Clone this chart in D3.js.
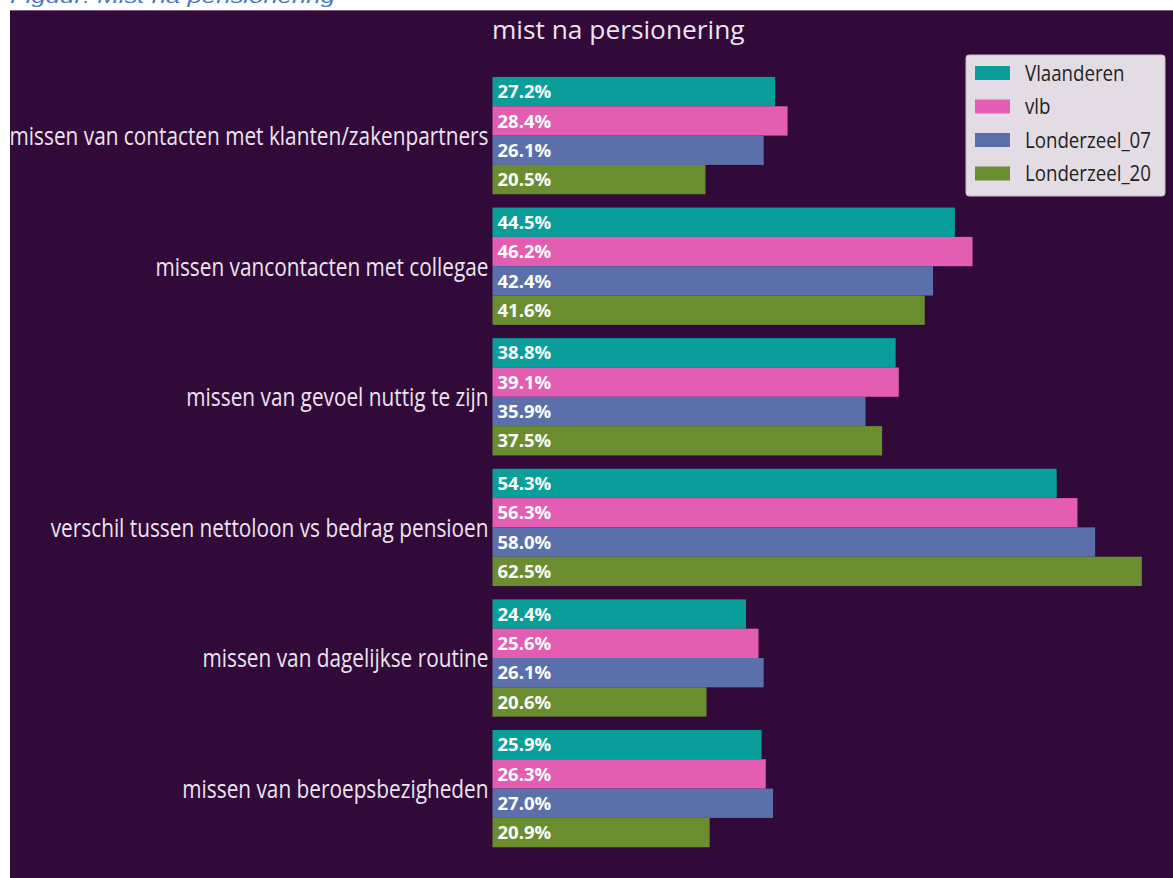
<!DOCTYPE html>
<html>
<head>
<meta charset="utf-8">
<script src="https://cdn.jsdelivr.net/npm/d3@7"></script>
<style>
  html, body { margin: 0; padding: 0; background: #ffffff; }
  svg { display: block; }
</style>
</head>
<body>
<svg id="chart" width="1173" height="878"></svg>
<script>
const categories = [
  "missen van contacten met klanten/zakenpartners",
  "missen vancontacten met collegae",
  "missen van gevoel nuttig te zijn",
  "verschil tussen nettoloon vs bedrag pensioen",
  "missen van dagelijkse routine",
  "missen van beroepsbezigheden"
];
const seriesNames = ["Vlaanderen", "vlb", "Londerzeel_07", "Londerzeel_20"];
const vlaanderen   = [27.2, 44.5, 38.8, 54.3, 24.4, 25.9];
const vlb          = [28.4, 46.2, 39.1, 56.3, 25.6, 26.3];
const londerzeel07 = [26.1, 42.4, 35.9, 58.0, 26.1, 27.0];
const londerzeel20 = [20.5, 41.6, 37.5, 62.5, 20.6, 20.9];
const seriesValues = [vlaanderen, vlb, londerzeel07, londerzeel20];
const seriesColors = ["#0a9e9b", "#e35db2", "#5b70aa", "#6a8e2f"];
const chartTitle = "mist na persionering";
const captionText = "Figuur: Mist na pensionering";

const svg = d3.select("#chart");
const W = 1173, H = 878;

// caption (mostly cropped at top, as in the reference)
svg.append("text")
  .attr("x", 10).attr("y", 2.5)
  .attr("font-family", "Liberation Sans, Arial, sans-serif")
  .attr("font-style", "italic")
  .attr("font-size", 19)
  .attr("fill", "#4a78c8")
  .attr("textLength", 325)
  .attr("lengthAdjust", "spacingAndGlyphs")
  .text(captionText);

// panel
svg.append("rect")
  .attr("x", 10).attr("y", 11).attr("width", W - 10).attr("height", H - 11)
  .attr("fill", "#310a39");
svg.append("line")
  .attr("x1", 10).attr("x2", W).attr("y1", 10.5).attr("y2", 10.5)
  .attr("stroke", "#7a5a80").attr("stroke-width", 1);

const x = d3.scaleLinear().domain([0, 65]).range([492.5, 492.5 + 65 * 10.39]);
const y = d3.scaleBand().domain(categories).range([70.3, 853.9])
  .paddingInner(0.102).paddingOuter(0.051);
const ySub = d3.scaleBand().domain(seriesNames).range([0, y.bandwidth()]);

const rows = [];
categories.forEach((c, i) => {
  seriesNames.forEach((s, j) => {
    rows.push({ cat: c, series: s, value: seriesValues[j][i], color: seriesColors[j] });
  });
});

const g = svg.append("g");
g.selectAll("rect.bar").data(rows).join("rect")
  .attr("class", "bar")
  .attr("x", x(0))
  .attr("y", d => y(d.cat) + ySub(d.series))
  .attr("width", d => x(d.value) - x(0))
  .attr("height", ySub.bandwidth())
  .attr("fill", d => d.color);

g.selectAll("text.val").data(rows).join("text")
  .attr("class", "val")
  .attr("x", x(0) + 5)
  .attr("y", d => y(d.cat) + ySub(d.series) + ySub.bandwidth() / 2)
  .attr("dy", "0.36em")
  .attr("font-family", "Open Sans, sans-serif")
  .attr("font-weight", "bold")
  .attr("font-size", 18.5)
  .attr("fill", "#ffffff")
  .text(d => d.value.toFixed(1) + "%");

// category axis labels
const labelSX = 0.80;
const yAxis = d3.axisLeft(y).tickSize(0).tickPadding(0);
const axG = svg.append("g").attr("transform", `translate(${x(0) - 4},0)`).call(yAxis);
axG.select(".domain").remove();
axG.selectAll(".tick text")
  .attr("font-family", "Open Sans, sans-serif")
  .attr("font-size", 26)
  .attr("fill", "#ece4ee")
  .attr("x", 0)
  .attr("dy", "0.36em")
  .attr("transform", `scale(${labelSX},1)`);

// title
svg.append("text")
  .attr("x", 492).attr("y", 39)
  .attr("font-family", "Open Sans, sans-serif")
  .attr("font-size", 26.3)
  .attr("fill", "#ece4ee")
  .text(chartTitle);

// legend
const legX = 966, legY = 55, legW = 199, legH = 141;
const leg = svg.append("g");
leg.append("rect")
  .attr("x", legX).attr("y", legY).attr("width", legW).attr("height", legH)
  .attr("rx", 3)
  .attr("fill", "#e4dce5").attr("stroke", "#c9bdcb");
const legSX = 0.89;
seriesNames.forEach((s, j) => {
  const cy = legY + 18 + j * 33.5;
  leg.append("rect")
    .attr("x", legX + 9).attr("y", cy - 7).attr("width", 35).attr("height", 14)
    .attr("fill", seriesColors[j]);
  leg.append("text")
    .attr("transform", `translate(${legX + 59},${cy}) scale(${legSX},1)`)
    .attr("dy", "0.36em")
    .attr("font-family", "Open Sans, sans-serif")
    .attr("font-size", 21)
    .attr("fill", "#222222")
    .text(s);
});
</script>
</body>
</html>
